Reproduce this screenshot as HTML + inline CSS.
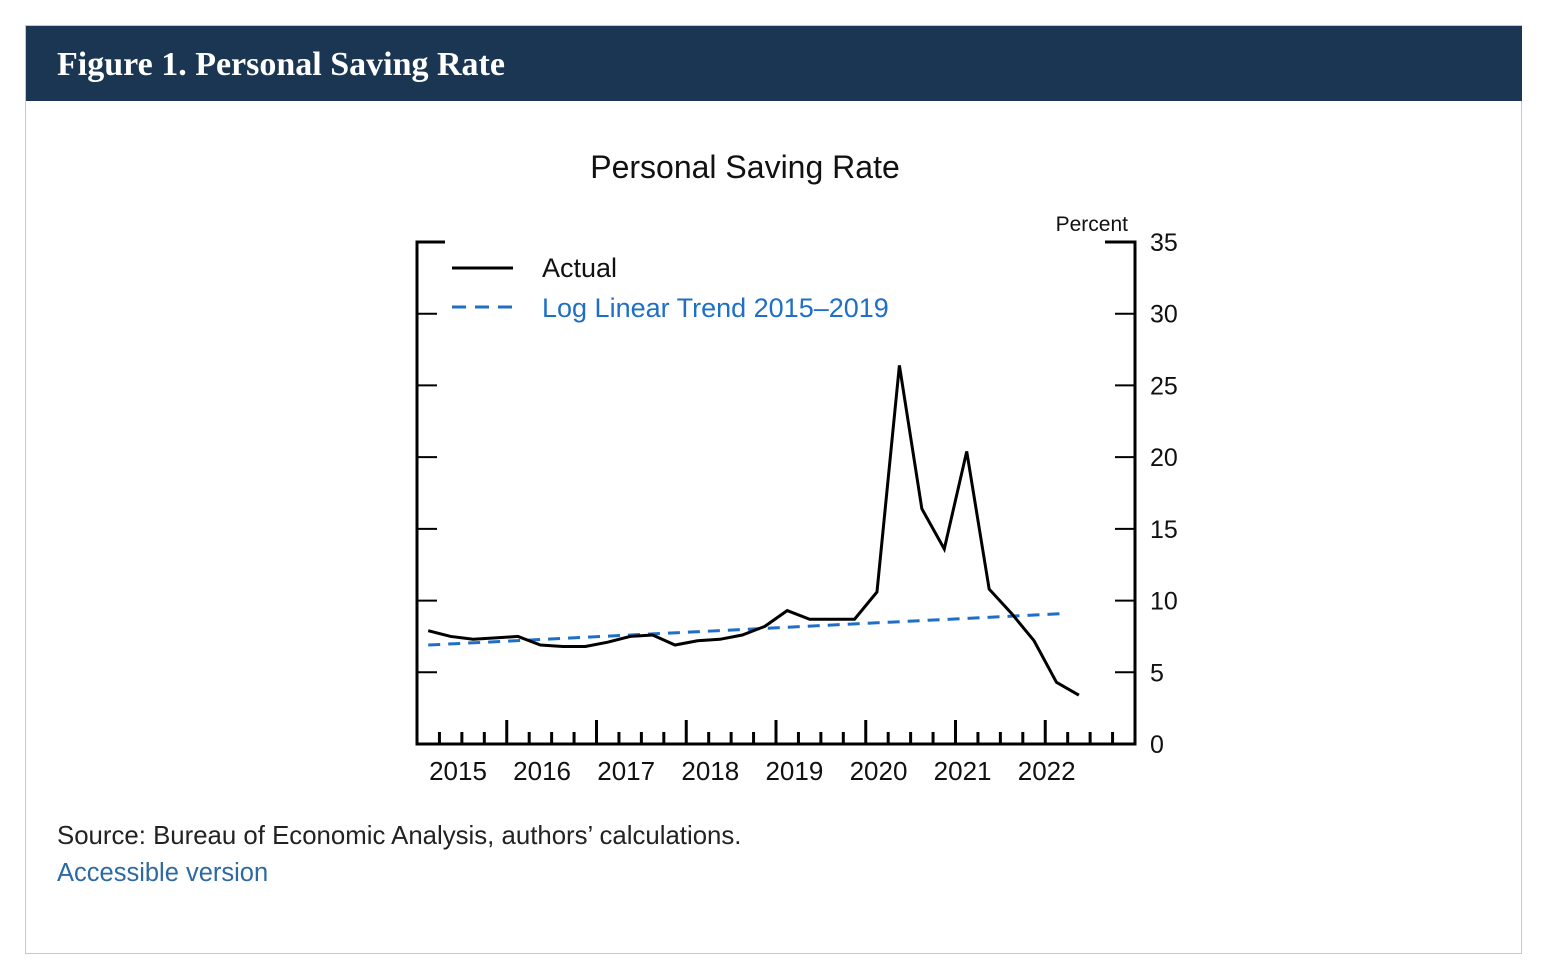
<!DOCTYPE html>
<html><head><meta charset="utf-8">
<style>
body{margin:0;background:#fff;width:1546px;height:968px;position:relative;font-family:"Liberation Sans",sans-serif;}
#box{position:absolute;left:25px;top:25px;width:1497px;height:929px;border:1px solid #c8c8c8;box-sizing:border-box;}
#hdr{position:absolute;left:26px;top:26px;width:1496px;height:75px;background:#1a3652;color:#fff;font-family:"Liberation Serif",serif;font-weight:bold;font-size:34px;line-height:77px;padding-left:31px;box-sizing:border-box;}
#src{position:absolute;left:57px;top:822px;font-size:25.8px;color:#222;}
#acc{position:absolute;left:57px;top:859px;font-size:25.5px;color:#2d6aa3;text-decoration:none;}
svg{position:absolute;left:0;top:0;}
</style></head><body>
<div id="box"></div>
<div id="hdr">Figure 1. Personal Saving Rate</div>
<svg id="chart" width="1546" height="968"></svg>
<div id="src">Source: Bureau of Economic Analysis, authors’ calculations.</div>
<a id="acc" href="#">Accessible version</a>
<script>
const actual=[7.9,7.5,7.3,7.4,7.5,6.9,6.8,6.8,7.1,7.5,7.6,6.9,7.2,7.3,7.6,8.2,9.3,8.7,8.7,8.7,10.6,26.4,16.4,13.6,20.4,10.8,9.1,7.2,4.3,3.4];
const trendQuarters=[0,28.4];
const trendValues=[6.9,9.1];
const years=["2015","2016","2017","2018","2019","2020","2021","2022"];
const yTicks=[0,5,10,15,20,25,30,35];

const svg=document.getElementById('chart');
const NS='http://www.w3.org/2000/svg';
const x0=417,x1=1135,yb=744,yt=242;
const qw=(x1-x0)/32;
const X=q=>x0+qw*(q+0.5);
const Y=v=>yb-(v/35)*(yb-yt);
function mk(t,a,p){const e=document.createElementNS(NS,t);for(const k in a)e.setAttribute(k,a[k]);(p||svg).appendChild(e);return e;}
const font='"Liberation Sans",sans-serif';
let e;
e=mk('text',{x:745,y:178,'text-anchor':'middle','font-size':32,'font-family':font,fill:'#111'});e.textContent='Personal Saving Rate';


e=mk('text',{x:1128,y:231,'text-anchor':'end','font-size':21,'font-family':font,fill:'#111'});e.textContent='Percent';


e=mk('path',{d:`M${x0+28},${yt}H${x0}V${yb}H${x1}V${yt}H${x1-30}`,fill:'none',stroke:'#000','stroke-width':3});


yTicks.forEach(v=>{
  if(v>0&&v<35){mk('line',{x1:x0,x2:x0+20,y1:Y(v),y2:Y(v),stroke:'#000','stroke-width':2});
  mk('line',{x1:x1-20,x2:x1,y1:Y(v),y2:Y(v),stroke:'#000','stroke-width':2});}
  e=mk('text',{x:1150,y:Y(v)+9,'font-size':25,'font-family':font,fill:'#111'});e.textContent=v;
  
  
});
for(let q=1;q<32;q++){const xx=x0+qw*q;const h=q%4===0?24:12;
  mk('line',{x1:xx,x2:xx,y1:yb,y2:yb-h,stroke:'#000','stroke-width':3});}
years.forEach((yr,i)=>{
  e=mk('text',{x:458+84.1*i,y:780,'text-anchor':'middle','font-size':26,'font-family':font,fill:'#111'});e.textContent=yr;
  
  
});
e=mk('line',{x1:X(trendQuarters[0]),y1:Y(trendValues[0]),x2:X(trendQuarters[1]),y2:Y(trendValues[1]),stroke:'#1f6fc6','stroke-width':3,'stroke-dasharray':'12,8'});


e=mk('polyline',{points:actual.map((v,i)=>X(i)+','+Y(v)).join(' '),fill:'none',stroke:'#000','stroke-width':3,'stroke-linejoin':'miter'});


mk('line',{x1:452,x2:513,y1:268,y2:268,stroke:'#000','stroke-width':3});
e=mk('text',{x:542,y:277,'font-size':27,'font-family':font,fill:'#111'});e.textContent='Actual';


mk('line',{x1:452,x2:516,y1:307,y2:307,stroke:'#1f6fc6','stroke-width':3,'stroke-dasharray':'14,9'});
e=mk('text',{x:542,y:317,'font-size':27,'font-family':font,fill:'#1f6fc6'});e.textContent='Log Linear Trend 2015–2019';


</script>
</body></html>
